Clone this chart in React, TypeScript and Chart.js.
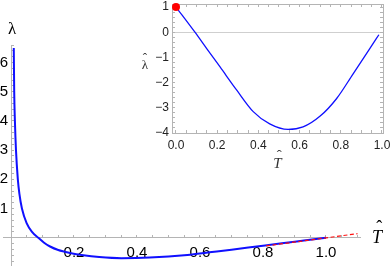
import { useEffect, useRef } from "react";
import { Chart, registerables } from "chart.js";

Chart.register(...registerables);

// ---- main plot data: lambda vs T-hat ----
const mainT = [0.0088, 0.0102, 0.0124, 0.0158, 0.0217, 0.0267, 0.0347, 0.0496, 0.0667, 0.0866, 0.105, 0.124, 0.15, 0.187, 0.23, 0.28, 0.35, 0.44, 0.56, 0.63, 0.7, 0.78, 0.86, 0.93, 1.0];
const mainLambda = [6.5, 5.0, 4.0, 3.0, 2.0, 1.5, 1.0, 0.5, 0.2, 0.0, -0.17, -0.3, -0.42, -0.52, -0.6, -0.66, -0.7, -0.68, -0.59, -0.5, -0.41, -0.3, -0.19, -0.095, 0.0];
const tangentT = [0.81, 1.1];
const tangentLambda = [-0.28, 0.14];
const mainXTickLabels = [0.2, 0.4, 0.6, 0.8, 1.0];
const mainYTickLabels = [1, 2, 3, 4, 5, 6];

// ---- inset data: lambda-hat vs T-hat ----
const insetT = [0, 0.092, 0.15, 0.214, 0.295, 0.375, 0.455, 0.544, 0.617, 0.7, 0.78, 0.86, 0.94, 0.985];
const insetLambda = [1, 0, -0.66, -1.38, -2.3, -3.15, -3.64, -3.86, -3.76, -3.33, -2.63, -1.65, -0.66, -0.1];
const markerT = [0];
const markerLambda = [1];
const insetXTickLabels = [0, 0.2, 0.4, 0.6, 0.8, 1.0];
const insetYTickLabels = [1, 0, -1, -2, -3, -4];

const near = (v: number, list: number[]) => list.find((l) => Math.abs(l - v) < 1e-6);
const zeroPad = (s: any) => {
  s.paddingLeft = 0;
  s.paddingRight = 0;
  s.paddingTop = 0;
  s.paddingBottom = 0;
};
const pts = (xs: number[], ys: number[]) => xs.map((x, i) => ({ x, y: ys[i] }));

const AXIS = "#b4b4b4";
const FONT = "'Liberation Sans', Arial, sans-serif";

// draws a letter with a circumflex accent placed above it (both as real text)
function hatted(ctx: CanvasRenderingContext2D, base: string, x: number, y: number, size: number, italic: boolean) {
  ctx.font = `${italic ? "italic " : ""}${size}px 'Liberation Serif', serif`;
  ctx.textAlign = "center";
  ctx.textBaseline = "alphabetic";
  ctx.fillText(base, x, y);
  ctx.font = `${size}px 'Liberation Serif', serif`;
  ctx.fillText("\u02C6", x + (italic ? size * 0.12 : 0), y - size * 0.52);
}

export default function App() {
  const mainRef = useRef<HTMLCanvasElement | null>(null);
  const insetRef = useRef<HTMLCanvasElement | null>(null);

  useEffect(() => {
    const main = new Chart(mainRef.current!, {
      type: "scatter",
      data: {
        datasets: [
          {
            data: pts(tangentT, tangentLambda),
            showLine: true,
            borderColor: "#ff1010",
            borderWidth: 1.2,
            borderDash: [4, 2.5],
            pointRadius: 0,
          },
          {
            data: pts(mainT, mainLambda),
            showLine: true,
            borderColor: "#1010ff",
            borderWidth: 2,
            pointRadius: 0,
            cubicInterpolationMode: "monotone",
          },
        ],
      },
      options: {
        animation: false,
        responsive: false,
        maintainAspectRatio: false,
        layout: { padding: { left: 3, right: 30, top: 45, bottom: 0 } },
        plugins: { legend: { display: false }, tooltip: { enabled: false } },
        scales: {
          x: {
            type: "linear",
            position: { y: 0 },
            min: -0.0254,
            max: 1.108,
            afterFit: zeroPad,
            border: { display: true, color: AXIS, width: 1 },
            grid: { drawOnChartArea: false, drawTicks: true, tickLength: -3, tickColor: AXIS },
            ticks: {
              stepSize: 0.05,
              autoSkip: false,
              includeBounds: false,
              maxRotation: 0,
              padding: 9,
              color: "#000",
              font: { family: FONT, size: 15 },
              callback: (v: any) => {
                const l = near(Number(v), mainXTickLabels);
                return l === undefined ? "" : l.toFixed(1);
              },
            },
          },
          y: {
            type: "linear",
            position: { x: 0 },
            min: -0.968,
            max: 6.6,
            afterFit: zeroPad,
            border: { display: true, color: AXIS, width: 1 },
            grid: { drawOnChartArea: false, drawTicks: true, tickLength: -3, tickColor: AXIS },
            ticks: {
              stepSize: 0.2,
              autoSkip: false,
              includeBounds: false,
              padding: 3,
              color: "#000",
              font: { family: FONT, size: 15 },
              callback: (v: any) => {
                const l = near(Number(v), mainYTickLabels);
                return l === undefined ? "" : String(l) + "\u2009";
              },
            },
          },
        },
      },
      plugins: [
        {
          id: "mainLabels",
          afterDraw(chart: any) {
            const ctx = chart.ctx;
            const xs = chart.scales.x;
            const ys = chart.scales.y;
            ctx.save();
            ctx.fillStyle = "#000";
            ctx.textAlign = "center";
            ctx.textBaseline = "middle";
            ctx.font = "17px 'Liberation Serif', serif";
            ctx.fillText("λ", xs.getPixelForValue(0) + 1, chart.chartArea.top - 15);
            hatted(ctx, "T", chart.chartArea.right + 17, ys.getPixelForValue(0) + 5, 18, true);
            ctx.restore();
          },
        },
      ],
    } as any);

    const inset = new Chart(insetRef.current!, {
      type: "scatter",
      data: {
        datasets: [
          {
            data: pts(markerT, markerLambda),
            showLine: false,
            pointRadius: 4,
            pointBackgroundColor: "#ff0000",
            pointBorderWidth: 0,
            clip: false,
          },
          {
            data: pts(insetT, insetLambda),
            showLine: true,
            borderColor: "#1010ff",
            borderWidth: 1.3,
            pointRadius: 0,
            cubicInterpolationMode: "monotone",
          },
        ],
      },
      options: {
        animation: false,
        responsive: false,
        maintainAspectRatio: false,
        layout: { padding: { left: 0, right: 7, top: 3, bottom: 0 } },
        plugins: { legend: { display: false }, tooltip: { enabled: false } },
        scales: {
          x: {
            type: "linear",
            position: "bottom",
            min: -0.0194,
            max: 1.005,
            afterFit: (s: any) => {
              zeroPad(s);
              s.height = 42;
            },
            border: { display: true, color: AXIS, width: 1 },
            grid: { drawOnChartArea: false, drawTicks: true, tickLength: -3, tickColor: AXIS },
            ticks: {
              stepSize: 0.05,
              autoSkip: false,
              includeBounds: false,
              maxRotation: 0,
              padding: 8,
              color: "#222",
              font: { family: FONT, size: 12 },
              callback: (v: any) => {
                const l = near(Number(v), insetXTickLabels);
                return l === undefined ? "" : l.toFixed(1);
              },
            },
          },
          x2: {
            type: "linear",
            position: "top",
            min: -0.0194,
            max: 1.005,
            afterFit: (s: any) => {
              zeroPad(s);
              s.height = 0;
            },
            border: { display: true, color: AXIS, width: 1 },
            grid: { drawOnChartArea: false, drawTicks: true, tickLength: -3, tickColor: AXIS },
            ticks: { stepSize: 0.05, autoSkip: false, includeBounds: false, display: false },
          },
          y: {
            type: "linear",
            position: "left",
            min: -4,
            max: 1.12,
            afterFit: (s: any) => {
              zeroPad(s);
              s.width = 42;
            },
            border: { display: true, color: AXIS, width: 1 },
            grid: {
              drawOnChartArea: true,
              drawTicks: true,
              tickLength: -3,
              tickColor: AXIS,
              color: (c: any) => (c.tick && Math.abs(c.tick.value) < 1e-6 ? "#cfcfcf" : "rgba(0,0,0,0)"),
            },
            ticks: {
              stepSize: 0.2,
              autoSkip: false,
              includeBounds: false,
              padding: 6,
              color: "#222",
              font: { family: FONT, size: 12 },
              callback: (v: any) => {
                const l = near(Number(v), insetYTickLabels);
                if (l === undefined) return "";
                return l < 0 ? "\u2212" + String(-l) : String(l);
              },
            },
          },
          y2: {
            type: "linear",
            position: "right",
            min: -4,
            max: 1.12,
            afterFit: (s: any) => {
              zeroPad(s);
              s.width = 0;
            },
            border: { display: true, color: AXIS, width: 1 },
            grid: { drawOnChartArea: false, drawTicks: true, tickLength: -3, tickColor: AXIS },
            ticks: { stepSize: 0.2, autoSkip: false, includeBounds: false, display: false },
          },
        },
      },
      plugins: [
        {
          id: "insetLabels",
          afterDraw(chart: any) {
            const ctx = chart.ctx;
            const a = chart.chartArea;
            ctx.save();
            ctx.fillStyle = "#333";
            hatted(ctx, "λ", a.left - 27, 69, 13, false);
            hatted(ctx, "T", (a.left + a.right) / 2, a.bottom + 35, 15, true);
            ctx.restore();
          },
        },
      ],
    } as any);

    return () => {
      main.destroy();
      inset.destroy();
    };
  }, []);

  return (
    <div style={{ position: "absolute", left: 0, top: 0, width: 390, height: 266, background: "#fff" }}>
      <canvas ref={mainRef} width={390} height={266} style={{ position: "absolute", left: 0, top: 0 }} />
      <canvas ref={insetRef} width={260} height={175} style={{ position: "absolute", left: 130, top: 0 }} />
    </div>
  );
}
